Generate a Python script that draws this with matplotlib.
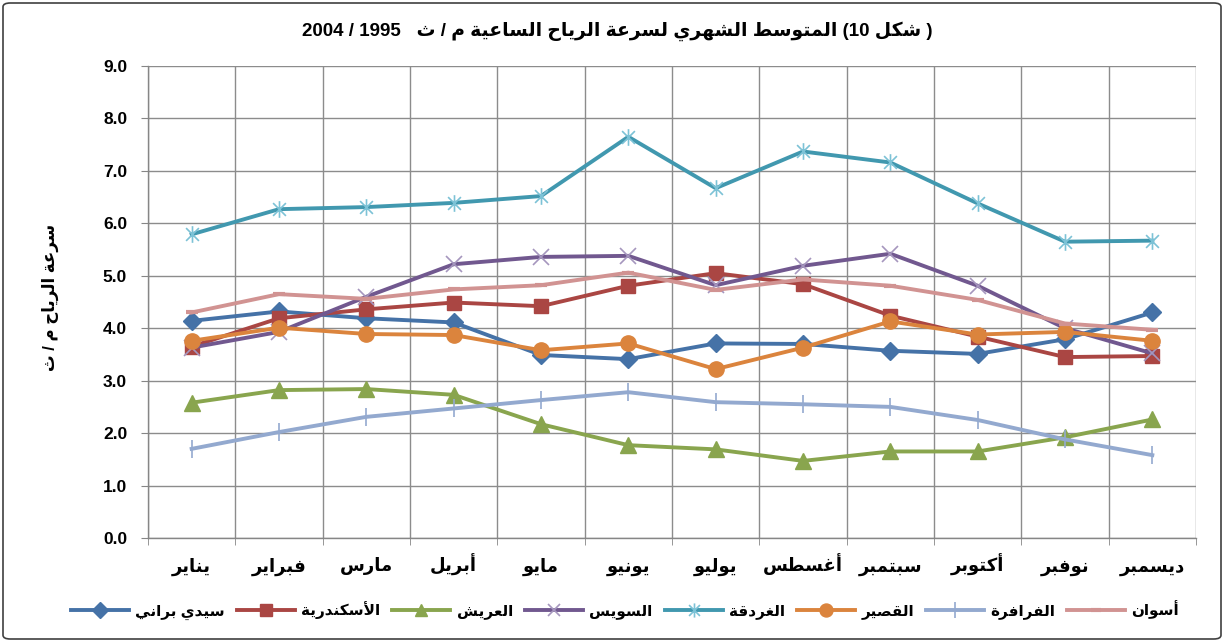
import re
import matplotlib
matplotlib.use("Agg")
import matplotlib.pyplot as plt
from matplotlib.path import Path
from matplotlib.patches import FancyBboxPatch

# ---- data (monthly mean wind speed, m/s, 1995-2004) ----
months = ["يناير", "فبراير", "مارس", "أبريل", "مايو", "يونيو",
          "يوليو", "أغسطس", "سبتمبر", "أكتوبر", "نوفبر", "ديسمبر"]

sidi_barrani = [4.14, 4.32, 4.19, 4.11, 3.49, 3.41, 3.71, 3.70, 3.57, 3.51, 3.79, 4.30]
alexandria = [3.65, 4.19, 4.36, 4.49, 4.42, 4.81, 5.05, 4.84, 4.24, 3.84, 3.45, 3.47]
arish = [2.58, 2.82, 2.84, 2.73, 2.17, 1.77, 1.69, 1.47, 1.65, 1.65, 1.92, 2.26]
suez = [3.63, 3.93, 4.60, 5.22, 5.36, 5.38, 4.82, 5.19, 5.42, 4.81, 4.00, 3.52]
hurghada = [5.79, 6.27, 6.31, 6.39, 6.52, 7.65, 6.67, 7.37, 7.16, 6.38, 5.65, 5.67]
qusair = [3.76, 4.01, 3.89, 3.87, 3.58, 3.71, 3.22, 3.63, 4.13, 3.88, 3.93, 3.76]
farafra = [1.70, 2.02, 2.31, 2.47, 2.63, 2.78, 2.59, 2.55, 2.50, 2.25, 1.88, 1.58]
aswan = [4.30, 4.65, 4.56, 4.74, 4.82, 5.06, 4.73, 4.93, 4.81, 4.54, 4.09, 3.97]

names = ["سيدي براني", "الأسكندرية", "العريش", "السويس",
         "الغردقة", "القصير", "الفرافرة", "أسوان"]

title = "( شكل 10) المتوسط الشهري لسرعة الرياح الساعية م / ث   1995 / 2004"
ylabel = "سرعة الرياح م / ث"

# ---- tiny arabic shaper (presentation forms + visual order) ----
DUAL = {'ب': 0xFE8F, 'ت': 0xFE95, 'ث': 0xFE99, 'ج': 0xFE9D, 'ح': 0xFEA1,
        'خ': 0xFEA5, 'س': 0xFEB1, 'ش': 0xFEB5, 'ص': 0xFEB9, 'ض': 0xFEBD,
        'ط': 0xFEC1, 'ظ': 0xFEC5, 'ع': 0xFEC9, 'غ': 0xFECD, 'ف': 0xFED1,
        'ق': 0xFED5, 'ك': 0xFED9, 'ل': 0xFEDD, 'م': 0xFEE1, 'ن': 0xFEE5,
        'ه': 0xFEE9, 'ي': 0xFEF1, 'ئ': 0xFE89}
RIGHT = {'ا': 0xFE8D, 'أ': 0xFE83, 'إ': 0xFE87, 'آ': 0xFE81, 'ة': 0xFE93,
         'د': 0xFEA9, 'ذ': 0xFEAB, 'ر': 0xFEAD, 'ز': 0xFEAF, 'و': 0xFEED,
         'ى': 0xFEEF}
LAMALEF = {'ا': 0xFEFB, 'أ': 0xFEF7, 'إ': 0xFEF9, 'آ': 0xFEF5}


def shape(s):
    out = []
    i = 0
    while i < len(s):
        c = s[i]
        if c not in DUAL and c not in RIGHT:
            out.append(c)
            i += 1
            continue
        jp = i > 0 and s[i - 1] in DUAL
        nxt = s[i + 1] if i + 1 < len(s) else ''
        if c == 'ل' and nxt in LAMALEF:
            out.append(chr(LAMALEF[nxt] + (1 if jp else 0)))
            i += 2
            continue
        if c in DUAL:
            jn = nxt in DUAL or nxt in RIGHT
            form = 3 if (jp and jn) else 1 if jp else 2 if jn else 0
            out.append(chr(DUAL[c] + form))
        else:
            out.append(chr(RIGHT[c] + (1 if jp else 0)))
        i += 1
    return ''.join(out)


def ar(s):
    t = shape(s)[::-1]
    t = re.sub(r'\d+', lambda m: m.group(0)[::-1], t)
    return t.translate(str.maketrans('()', ')('))


# asterisk marker (x with vertical bar), like excel's "*"
star = Path([(-1, -1), (1, 1), (-1, 1), (1, -1), (0, -1.3), (0, 1.3)],
            [Path.MOVETO, Path.LINETO, Path.MOVETO, Path.LINETO, Path.MOVETO, Path.LINETO])

series = [
    (sidi_barrani, '#4572A7', dict(marker='D', ms=9.5, mec='#4572A7')),
    (alexandria, '#AA4643', dict(marker='s', ms=10, mec='#AA4643')),
    (arish, '#89A54E', dict(marker='^', ms=11, mec='#89A54E')),
    (suez, '#71588F', dict(marker='x', ms=11, mew=1.2, mec='#A596BE')),
    (hurghada, '#4198AF', dict(marker=star, ms=12, mew=1.2, mec='#7CC2D6', mfc='none')),
    (qusair, '#DB843D', dict(marker='o', ms=11, mec='#DB843D')),
    (farafra, '#93A9CF', dict(marker='|', ms=13, mew=1.2, mec='#93A9CF')),
    (aswan, '#D19392', dict(marker='_', ms=8, mew=3, mec='#D19392')),
]

font = ['Liberation Sans', 'DejaVu Sans']
plt.rcParams['font.family'] = font
plt.rcParams['font.weight'] = 'bold'

fig = plt.figure(figsize=(12.24, 6.42), dpi=100)
ax = fig.add_axes([148 / 1224, 1 - 538 / 642, (1196 - 148) / 1224, (538 - 66) / 642])

x = list(range(len(months)))
for (vals, col, mk), nm in zip(series, names):
    ax.plot(x, vals, color=col, lw=2.8, label=ar(nm), **mk)

ax.set_xlim(-0.5, 11.5)
ax.set_ylim(0, 9)
ax.set_yticks(range(10))
ax.set_yticklabels([f"{v:.1f}" for v in range(10)], fontsize=12.5, fontweight='bold')
ax.set_xticks(x)
ax.set_xticklabels([ar(m) for m in months], fontsize=13, fontweight='bold', va='baseline')
ax.set_xticks([i - 0.5 for i in range(13)], minor=True)
ax.tick_params(axis='x', which='major', length=0, pad=24)
ax.tick_params(axis='x', which='minor', length=5, color='#868686', direction='out')
ax.tick_params(axis='y', length=5, color='#868686', pad=10)
ax.grid(axis='y', which='major', color='#8c8c8c', lw=1.0)
ax.grid(axis='x', which='minor', color='#8c8c8c', lw=1.0)
ax.set_axisbelow(True)
for side in ['top', 'right']:
    ax.spines[side].set_visible(False)
for side in ['left', 'bottom']:
    ax.spines[side].set_color('#868686')
    ax.spines[side].set_linewidth(1.0)

fig.text(617 / 1224, 1 - 31 / 642, ar(title), ha='center', va='center',
         fontsize=13.5, fontweight='bold')
fig.text(50 / 1224, 1 - 297 / 642, ar(ylabel), ha='center', va='center',
         rotation=90, fontsize=12, fontweight='bold')

fig.legend(loc='center', bbox_to_anchor=(625 / 1224, 1 - 610 / 642), ncol=8,
           frameon=False, handlelength=3.8, handletextpad=0.4, columnspacing=0.8,
           markerscale=0.85, prop={'size': 11, 'weight': 'bold'})

fig.patches.append(FancyBboxPatch((3 / 1224, 3 / 642), 1218 / 1224, 636 / 642,
                                  boxstyle='round,pad=0,rounding_size=0.006',
                                  transform=fig.transFigure, fill=False,
                                  ec='#404040', lw=1.2))

fig.savefig('out.png', dpi=100)
